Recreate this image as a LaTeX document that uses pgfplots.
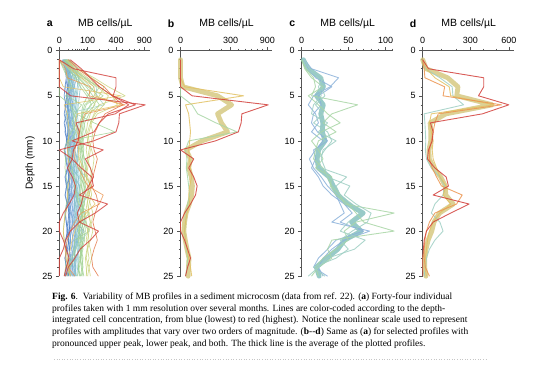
\documentclass[border=0pt]{standalone}
\usepackage{pgfplots}
\pgfplotsset{compat=1.18}
\usepackage{pgfplotstable}
\usepackage{fontspec}
\setmainfont{Liberation Sans}
\newfontfamily\capfont{Liberation Serif}

\definecolor{cblueA}{HTML}{4A7EC6}
\definecolor{cblueB}{HTML}{76A6D8}
\definecolor{cteal}{HTML}{86C2CC}
\definecolor{cgreen}{HTML}{A2D293}
\definecolor{cyg}{HTML}{C9D37C}
\definecolor{cyellow}{HTML}{E2C163}
\definecolor{corange}{HTML}{EC9550}
\definecolor{cored}{HTML}{E2703F}
\definecolor{cred}{HTML}{D2403B}
\definecolor{ckhaki}{HTML}{D3C67A}
\definecolor{cthteal}{HTML}{7DBDBA}
\definecolor{cltteal}{HTML}{9FCFC4}
\definecolor{cltgreen}{HTML}{A9D6A6}
\definecolor{cltblue}{HTML}{8CB2DA}
\definecolor{axgray}{HTML}{555555}

% ---------- panel b ----------
\pgfplotstableread{
d bY bG bR bM
1 0 0 0 0
2 0 0 0 0
3 0 0 0 0
4 2 0 0 0.7
5 476 0 16 164
6 3 16 920 313
7 8 35 450 164
8 10 150 440 200
9 12 382 400 265
10 10 8 146 55
11 8 3 0 3.7
12 10 5 21 12
13 12 4 8 8
14 15 6 21 14
15 10 8 33 17
16 8 10 27 15
17 10 6 12 9.3
18 5 4 2 3.7
19 3 3 0 2
20 2 2 0 1.3
21 3 3 2 2.7
22 5 4 6 5
23 8 6 12 8.7
24 12 5 6 7.7
25 15 3 3 7
}\datB

% ---------- panel c ----------
\pgfplotstableread{
d c1 c2 c3 c4 c5 c6 cM
1 2 1 0 0 1 2 1
2 8 5 3 2 4 6 4.7
3 38 12 10 8 15 20 17.2
4 28 30 12 20 18 15 20.5
5 10 15 8 5 22 18 13
6 5 18 62 15 12 10 20.3
7 12 10 30 25 20 8 17.5
8 15 8 20 40 10 25 19.7
9 8 14 35 18 25 15 19.2
10 20 25 15 8 30 35 22.2
11 12 10 12 15 22 20 15.2
12 6 12 10 20 15 18 13.5
13 10 8 20 12 18 22 15
14 18 15 25 30 48 25 26.8
15 25 20 30 28 35 52 31.7
16 35 30 40 35 40 45 37.5
17 40 45 45 50 55 60 49.2
18 45 55 112 60 65 80 69.5
19 30 40 60 70 50 75 54.2
20 78 70 45 112 40 55 66.7
21 45 35 50 30 72 40 45.3
22 30 25 35 25 58 50 37.2
23 20 15 20 30 25 35 24.2
24 15 10 12 15 15 10 12.8
25 20 25 15 8 5 22 15.8
}\datC

% ---------- panel d ----------
\pgfplotstableread{
d dR dO dY dT dM
1 0 0 0 0 0
2 25 5 15 10 13.8
3 400 8 60 90 139.5
4 400 120 150 170 210
5 360 110 160 175 201.3
6 600 540 480 250 467.5
7 390 80 40 5 128.8
8 35 60 30 8 33.3
9 50 50 40 10 37.5
10 45 40 50 12 36.8
11 25 30 45 10 27.5
12 20 30 50 15 28.8
13 60 45 70 40 53.8
14 130 70 90 90 95
15 145 100 130 120 123.8
16 50 240 110 110 127.5
17 290 200 160 60 177.5
18 160 60 90 40 87.5
19 50 30 50 90 55
20 15 15 30 110 42.5
21 5 8 20 60 23.3
22 2 5 15 30 13
23 0 5 10 15 7.5
24 0 10 8 10 7
25 0 30 15 5 12.5
}\datD

% ---------- panel a, further profiles ----------
\pgfplotstableread{
d b1 b2 b3 b4 b5 b6 b7 b8 b9 b10 b11 b12
1 3 5 2 8 4 6 10 3 5 12 7 4
2 6 10 4 15 8 12 25 6 9 45 14 8
3 8 12 6 10 10 15 20 9 12 30 18 11
4 5 9 4 8 12 10 15 12 14 20 22 9
5 7 6 3 12 9 14 12 8 18 16 25 13
6 4 8 5 10 7 9 18 11 15 22 20 16
7 6 11 3 7 10 12 14 9 20 18 24 12
8 3 7 6 9 13 8 16 13 17 25 19 15
9 5 10 4 12 8 11 12 10 22 20 28 18
10 8 6 7 8 11 15 18 14 16 24 23 14
11 4 9 3 11 9 10 13 8 19 21 26 17
12 6 12 5 9 14 13 17 12 21 27 22 20
13 9 8 8 13 10 16 15 15 18 23 30 16
14 5 11 4 10 12 12 20 11 24 26 25 21
15 7 7 6 14 9 14 16 13 20 30 28 18
16 4 10 5 9 13 11 19 16 17 25 32 22
17 8 8 7 12 10 17 14 12 23 28 27 19
18 5 12 4 10 15 13 18 15 19 24 31 23
19 6 9 6 13 11 15 21 13 22 29 26 20
20 9 7 8 11 14 12 17 17 18 26 33 24
21 5 11 5 9 10 16 15 14 25 31 29 21
22 7 8 7 14 13 13 19 11 20 27 30 25
23 4 10 4 10 16 14 22 16 23 32 28 19
24 6 7 6 12 12 11 18 13 21 28 34 22
25 5 9 5 11 10 15 16 15 24 30 31 26
}\datAblue

\pgfplotstableread{
d t1 t2 t3 t4 t5 t6
1 4 6 3 5 2 7
2 15 20 10 25 8 30
3 25 35 20 50 18 45
4 30 45 25 40 22 55
5 35 40 30 35 28 50
6 30 35 40 30 25 45
7 25 30 35 40 22 40
8 28 35 30 45 26 35
9 32 40 25 38 30 45
10 30 38 28 35 25 50
11 25 42 30 30 22 45
12 28 35 35 40 28 40
13 35 30 40 45 25 38
14 40 35 35 50 30 45
15 35 40 30 45 35 50
16 30 45 28 40 38 55
17 28 40 32 35 32 48
18 32 35 36 42 28 42
19 38 30 40 48 25 45
20 35 35 45 40 30 50
21 30 40 38 36 35 55
22 28 45 32 40 32 48
23 32 38 28 45 28 42
24 35 32 30 42 25 46
25 30 36 34 38 30 50
}\datAteal

\pgfplotstableread{
d g1 g2 g3 g4 g5 g6 g7
1 5 3 8 4 6 3 5
2 20 15 30 12 25 10 18
3 60 45 80 35 70 30 50
4 120 90 150 70 200 55 100
5 180 140 100 110 150 95 240
6 90 200 70 160 80 130 120
7 70 110 60 90 65 70 85
8 60 80 75 65 55 50 70
9 50 70 85 55 60 45 65
10 55 65 70 50 70 55 60
11 60 55 60 65 75 50 70
12 70 60 55 80 65 45 75
13 65 75 50 90 60 55 85
14 55 80 60 75 70 65 95
15 60 70 75 60 85 55 80
16 70 65 85 55 90 50 70
17 80 60 70 65 75 60 65
18 65 75 60 70 65 55 75
19 55 85 55 60 70 45 80
20 60 70 50 75 60 50 85
21 70 60 45 80 55 60 70
22 60 55 55 65 60 70 60
23 50 65 60 55 70 55 55
24 45 70 50 60 65 45 65
25 55 60 40 70 55 50 75
}\datAgreen

\pgfplotstableread{
d y1 y2 y3 y4
1 10 8 12 6
2 40 30 50 25
3 150 100 130 80
4 300 200 250 180
5 540 350 200 300
6 200 420 150 250
7 150 180 120 160
8 120 130 100 120
9 100 110 90 140
10 110 100 100 130
11 130 90 120 110
12 150 100 110 100
13 140 120 100 90
14 120 130 90 100
15 110 110 100 120
16 100 95 110 130
17 120 100 95 110
18 140 110 85 100
19 130 120 90 120
20 110 100 100 140
21 100 90 110 120
22 120 100 95 100
23 130 110 85 90
24 110 95 90 110
25 100 90 95 120
}\datAyg

\pgfplotstableread{
d o2 r3
1 10 15
2 40 60
3 120 120
4 250 200
5 350 350
6 500 720
7 260 300
8 200 200
9 160 150
10 140 20
11 150 240
12 180 84
13 160 120
14 140 146
15 130 106
16 170 72
17 190 60
18 160 40
19 140 50
20 160 191
21 180 120
22 150 54
23 130 30
24 140 10
25 190 5
}\datAwarm

\pgfplotsset{
  mbaxis/.style={
    scale only axis, width=91pt, height=225.5pt,
    anchor=north west,
    axis x line*=top, axis y line*=left,
    y dir=reverse, ymin=0, ymax=25,
    ytick={0,5,...,25}, minor ytick={1,...,24},
    tick align=outside,
    major tick length=3.5pt, minor tick length=2pt,
    axis line style={axgray, line width=0.6pt},
    every tick/.style={axgray, line width=0.5pt},
    tick label style={font=\fontsize{9}{10}\selectfont},
    /pgf/number format/assume math mode=true,
    clip=false,
  },
  sqrtx/.style={
    x coord trafo/.code={\pgfmathparse{sqrt(##1)}},
    x coord inv trafo/.code={\pgfmathparse{(##1)^2}},
  },
  powx/.style={
    x coord trafo/.code={\pgfmathparse{exp(0.85*ln(max(##1,0.0001)))}},
    x coord inv trafo/.code={\pgfmathparse{exp(ln(max(##1,0.0001))/0.85)}},
  },
  thin/.style={line width=0.7pt, opacity=0.8, line join=round},
  thinb/.style={line width=0.9pt, opacity=0.85, line join=round},
  thick/.style={line width=4.8pt, opacity=0.8, line join=round, line cap=round},
}

\begin{document}
\begin{tikzpicture}[x=1pt,y=1pt]
\useasboundingbox (0,0) rectangle (554,-366);

% ================= panel a =================
\begin{axis}[mbaxis, sqrtx, at={(59.3pt,-50.7pt)},
  xmin=0, xmax=1030,
  xtick={0,100,400,900}, xticklabels={0,100,400,900},
  minor xtick={10,20,...,90,200,300,500,600,700,800}]
\pgfplotsinvokeforeach{b1,b2,b3,b4,b5,b6}{\addplot[thin, cblueA] table[x=#1,y=d]{\datAblue};}
\pgfplotsinvokeforeach{b7,b8,b9,b10,b11,b12}{\addplot[thin, cblueB] table[x=#1,y=d]{\datAblue};}
\addplot[thin, cltblue] table[x=c1,y=d]{\datC};
\addplot[thin, cltblue] table[x=c2,y=d]{\datC};
\pgfplotsinvokeforeach{t1,t2,t3,t4,t5,t6}{\addplot[thin, cteal] table[x=#1,y=d]{\datAteal};}
\addplot[thin, cteal] table[x=c5,y=d]{\datC};
\addplot[thin, cteal] table[x=c6,y=d]{\datC};
\addplot[thin, cgreen] table[x=c3,y=d]{\datC};
\addplot[thin, cgreen] table[x=c4,y=d]{\datC};
\pgfplotsinvokeforeach{g1,g2,g3,g4,g5,g6,g7}{\addplot[thin, cgreen] table[x=#1,y=d]{\datAgreen};}
\addplot[thin, cltteal] table[x=dT,y=d]{\datD};
\addplot[thin, cgreen] table[x=bG,y=d]{\datB};
\pgfplotsinvokeforeach{y1,y2,y3,y4}{\addplot[thin, cyg] table[x=#1,y=d]{\datAyg};}
\addplot[thin, cyellow] table[x=bY,y=d]{\datB};
\addplot[thin, cyellow] table[x=dY,y=d]{\datD};
\addplot[thin, corange] table[x=dO,y=d]{\datD};
\addplot[thin, cored] table[x=o2,y=d]{\datAwarm};
\addplot[thin, cred, line width=0.9pt] table[x=r3,y=d]{\datAwarm};
\addplot[thin, cred, line width=0.9pt] table[x=dR,y=d]{\datD};
\addplot[thin, cred, line width=0.9pt] table[x=bR,y=d]{\datB};
\end{axis}

% ================= panel b =================
\begin{axis}[mbaxis, sqrtx, at={(180.5pt,-50.7pt)},
  xmin=0, xmax=990,
  xtick={0,300,900}, xticklabels={0,300,900},
  minor xtick={100,200,400,500,600,700,800}]
\addplot[thick, ckhaki] table[x=bM,y=d]{\datB};
\addplot[thinb, cltgreen] table[x=bG,y=d]{\datB};
\addplot[thinb, cyellow] table[x=bY,y=d]{\datB};
\addplot[thinb, cred] table[x=bR,y=d]{\datB};
\end{axis}

% ================= panel c =================
\begin{axis}[mbaxis, powx, at={(301.7pt,-50.7pt)},
  xmin=0, xmax=110,
  xtick={0,50,100}, xticklabels={0,50,100},
  minor xtick={10,20,30,40,60,70,80,90,110}]
\addplot[thick, cthteal] table[x=cM,y=d]{\datC};
\addplot[thinb, cltblue] table[x=c1,y=d]{\datC};
\addplot[thinb, cltblue] table[x=c2,y=d]{\datC};
\addplot[thinb, cltgreen] table[x=c3,y=d]{\datC};
\addplot[thinb, cltgreen] table[x=c4,y=d]{\datC};
\addplot[thinb, cltteal] table[x=c5,y=d]{\datC};
\addplot[thinb, cltteal] table[x=c6,y=d]{\datC};
\end{axis}

% ================= panel d =================
\begin{axis}[mbaxis, powx, at={(422.7pt,-50.7pt)},
  xmin=0, xmax=640,
  xtick={0,300,600}, xticklabels={0,300,600},
  minor xtick={100,200,400,500}]
\addplot[thick, ckhaki] table[x=dM,y=d]{\datD};
\addplot[thinb, cltteal] table[x=dT,y=d]{\datD};
\addplot[thinb, cyellow] table[x=dY,y=d]{\datD};
\addplot[thinb, corange] table[x=dO,y=d]{\datD};
\addplot[thinb, cred] table[x=dR,y=d]{\datD};
\end{axis}

% titles
\foreach \xl/\lt in {59.3/a,180.5/b,301.7/c,422.7/d}{
  \node[font=\bfseries\fontsize{10.5}{12}\selectfont] at (\xl-9.5,-24) {\lt};
  \node[font=\fontsize{10.5}{12}\selectfont] at (\xl+46,-24) {MB cells/µL};
}
\node[rotate=90, font=\fontsize{10}{12}\selectfont] at (30,-163) {Depth (mm)};

% caption
\node[anchor=north west, inner sep=0, align=left, font=\capfont\fontsize{9.5}{11.7}\selectfont] at (52,-292.5)
{\textbf{Fig. 6}.\ \ Variability of MB profiles in a sediment microcosm (data from ref. 22). (\textbf{a}) Forty-four individual\\
profiles taken with 1 mm resolution over several months. Lines are color-coded according to the depth-\\
integrated cell concentration, from blue (lowest) to red (highest). Notice the nonlinear scale used to represent\\
profiles with amplitudes that vary over two orders of magnitude. (\textbf{b}--\textbf{d}) Same as (\textbf{a}) for selected profiles with\\
pronounced upper peak, lower peak, and both. The thick line is the average of the plotted profiles.};
\draw[gray!45, dotted, line width=0.6pt] (54,-359.5) -- (486,-359.5);
\end{tikzpicture}
\end{document}
